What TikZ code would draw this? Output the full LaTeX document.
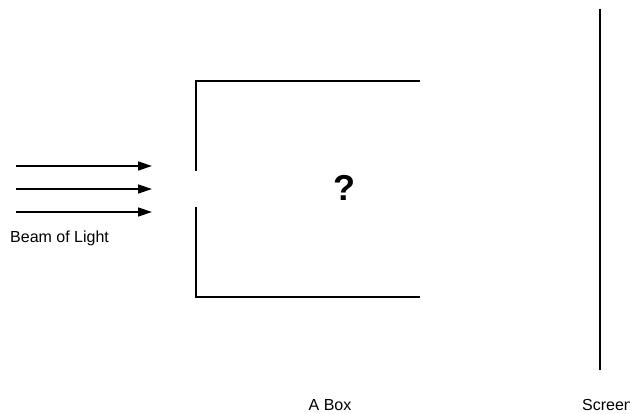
\documentclass[tikz,border=0pt]{standalone}
\usepackage{fontspec}
\setmainfont{Liberation Sans}
\usetikzlibrary{arrows.meta}
\begin{document}
\begin{tikzpicture}[x=1pt,y=-1pt,
  wall/.style={line width=1.5pt},
  ray/.style={line width=1.4pt,-{Triangle[length=14pt,width=9pt]}},
  lbl/.style={font=\fontsize{16}{19}\selectfont,inner sep=0pt}]
\useasboundingbox (0,0) rectangle (630,414);
\clip (0,0) rectangle (630,414);
% box
\coordinate (tr) at (420,81);
\coordinate (tl) at (196,81);
\coordinate (gt) at (196,171);
\coordinate (gb) at (196,207);
\coordinate (bl) at (196,297);
\coordinate (br) at (420,297);
\draw[wall] (tr) -- (tl) -- (gt);
\draw[wall] (gb) -- (bl) -- (br);
\node[inner sep=0pt,font=\bfseries\fontsize{36}{40}\selectfont] (q) at (344,188) {?};
% beam
\foreach \y/\n in {166/a,189/b,212/c}{
  \coordinate (s\n) at (16,\y);
  \coordinate (e\n) at (152,\y);
  \draw[ray] (s\n) -- (e\n);
}
\node[lbl,anchor=west] (beam) at (10,238) {Beam of Light};
% screen
\coordinate (st) at (600,9);
\coordinate (sb) at (600,370);
\draw[wall] (st) -- (sb);
\node[lbl] (abox) at (330,405) {A Box};
\node[lbl,anchor=west] (scr) at (582,405) {Screen};
\end{tikzpicture}
\end{document}
